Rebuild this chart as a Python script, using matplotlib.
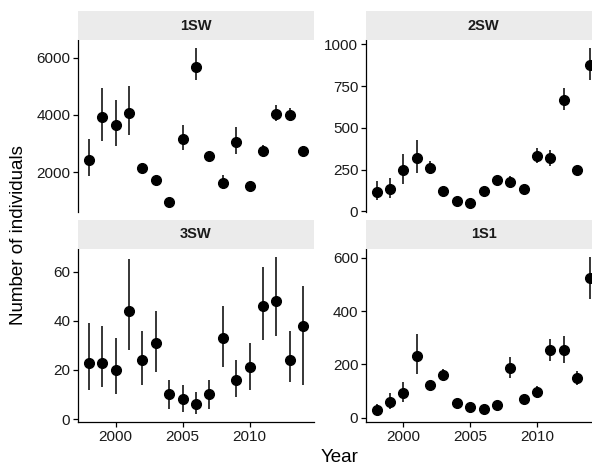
import numpy as np
import matplotlib
matplotlib.use("Agg")
import matplotlib.pyplot as plt

plt.rcParams['font.family'] = ['Liberation Sans', 'DejaVu Sans']

years = [1998, 1999, 2000, 2001, 2002, 2003, 2004, 2005, 2006,
         2007, 2008, 2009, 2010, 2011, 2012, 2013, 2014]

# mean estimate and interval for each sea-age class
sw1_mean = [2440, 3920, 3650, 4080, 2160, 1720, 950, 3170, 5680, 2560, 1610, 3050, 1510, 2735, 4030, 3990, 2735]
sw1_lo = [1880, 3090, 2910, 3300, 2080, 1650, 880, 2760, 5230, 2480, 1420, 2640, 1440, 2590, 3790, 3790, 2640]
sw1_hi = [3140, 4920, 4530, 5000, 2240, 1790, 1020, 3650, 6340, 2640, 1900, 3580, 1580, 2930, 4330, 4250, 2900]

sw2_mean = [117, 131, 247, 322, 257, 121, 64, 50, 121, 185, 173, 131, 330, 322, 668, 245, 879]
sw2_lo = [66, 80, 165, 229, 221, 108, 55, 42, 110, 170, 137, 118, 292, 272, 604, 221, 789]
sw2_hi = [181, 201, 346, 429, 300, 134, 73, 58, 132, 200, 211, 144, 382, 368, 738, 270, 980]

sw3_mean = [23, 23, 20, 44, 24, 31, 10, 8, 6, 10, 33, 16, 21, 46, 48, 24, 38]
sw3_lo = [12, 13, 10, 28, 14, 19, 4, 3, 2, 4, 21, 9, 12, 32, 34, 15, 14]
sw3_hi = [39, 38, 33, 65, 36, 44, 16, 14, 11, 16, 46, 24, 31, 62, 66, 36, 54]

s1_mean = [29, 59, 92, 230, 123, 160, 54, 39, 31, 49, 185, 70, 98, 254, 254, 147, 525]
s1_lo = [13, 31, 59, 164, 107, 141, 45, 32, 25, 41, 147, 59, 75, 214, 205, 122, 447]
s1_hi = [50, 94, 135, 314, 138, 182, 63, 47, 38, 58, 229, 82, 119, 296, 308, 176, 604]

panels = [
    ("1SW", sw1_mean, sw1_lo, sw1_hi, [2000, 4000, 6000]),
    ("2SW", sw2_mean, sw2_lo, sw2_hi, [0, 250, 500, 750, 1000]),
    ("3SW", sw3_mean, sw3_lo, sw3_hi, [0, 20, 40, 60]),
    ("1S1", s1_mean, s1_lo, s1_hi, [0, 200, 400, 600]),
]

W, H = 592, 467
fig = plt.figure(figsize=(W / 100, H / 100), dpi=100)

# panel boxes in pixels: left, right / strip top, panel top, panel bottom
cols = [(78, 314), (366, 601)]
rows = [(11, 40, 212), (220, 249, 422)]

tick_col = '#1a1a1a'
for k, (name, mean, lo, hi, yt) in enumerate(panels):
    r, c = divmod(k, 2)
    x0, x1 = cols[c]
    st, pt, pb = rows[r]
    ax = fig.add_axes([x0 / W, 1 - pb / H, (x1 - x0) / W, (pb - pt) / H])
    sax = fig.add_axes([x0 / W, 1 - pt / H, (x1 - x0) / W, (pt - st) / H])
    sax.set_facecolor('#ebebeb')
    sax.set_xticks([])
    sax.set_yticks([])
    for s in sax.spines.values():
        s.set_visible(False)
    sax.text(0.5, 0.5, name, ha='center', va='center', fontsize=10.5,
             fontweight='bold', color='#1a1a1a', transform=sax.transAxes)

    ax.vlines(years, lo, hi, color='black', lw=1.1, zorder=2)
    ax.plot(years, mean, 'o', color='black', ms=7, zorder=3)

    span = max(hi) - min(lo)
    ax.set_ylim(min(lo) - 0.05 * span, max(hi) + 0.05 * span)
    ax.set_xlim(1997.2, 2014.8)
    ax.set_yticks(yt)
    ax.set_xticks([2000, 2005, 2010])

    ax.spines['top'].set_visible(False)
    ax.spines['right'].set_visible(False)
    ax.spines['left'].set_linewidth(0.9)
    ax.spines['bottom'].set_linewidth(0.9)
    ax.tick_params(length=3.5, width=0.9, labelsize=11, labelcolor=tick_col, pad=2)
    if r == 0:
        ax.spines['bottom'].set_visible(False)
        ax.tick_params(axis='x', bottom=False, labelbottom=False)

fig.text(340 / W, 1 - 457 / H, "Year", ha='center', va='center', fontsize=13.5)
fig.text(19 / W, 1 - 235 / H, "Number of individuals", ha='center', va='center',
         rotation=90, fontsize=13.5)

fig.savefig("out.png", dpi=100)
